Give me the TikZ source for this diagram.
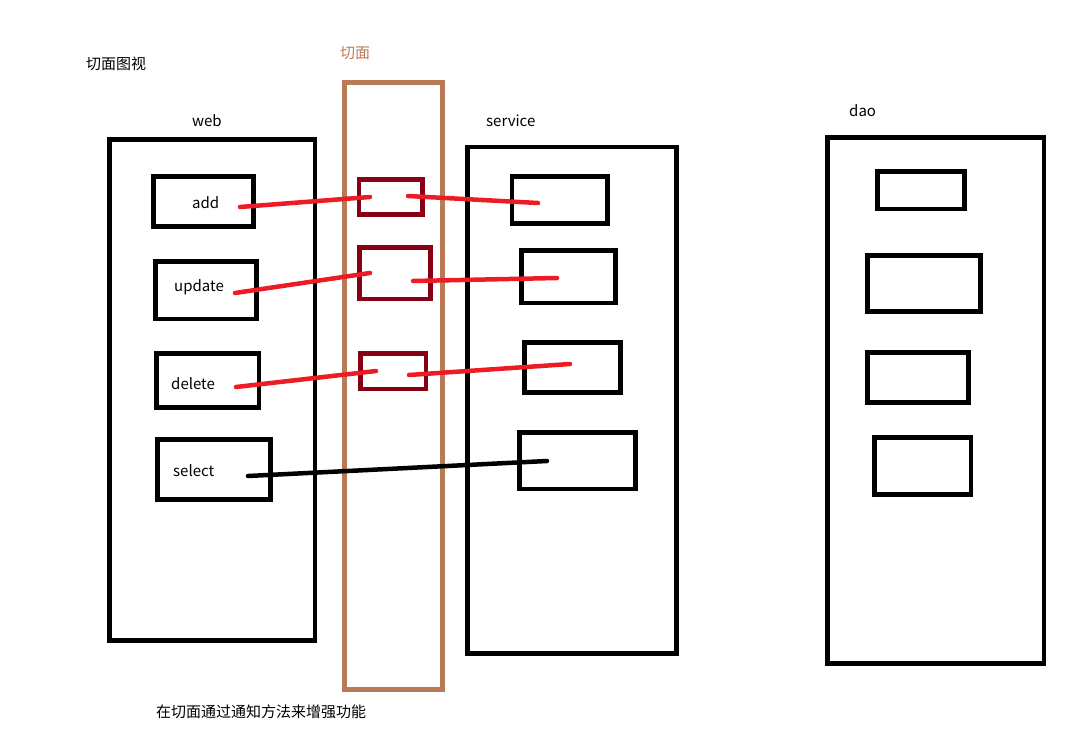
\documentclass[tikz,border=0pt]{standalone}
\usepackage{fontspec}
\setmainfont{Noto Sans CJK SC}
\definecolor{paintred}{HTML}{ED1C24}
\definecolor{darkred}{HTML}{880015}
\definecolor{brownc}{HTML}{B97A57}
\newcommand{\bx}[6]{\node[#2, minimum width={#5-#3}, minimum height={#6-#4}] (#1) at ({(#3+#5)/2},{(#4+#6)/2}) {};}
\begin{document}
\begin{tikzpicture}[x=1pt,y=-1pt,
  box/.style={draw=black, line width=4.7pt, rectangle, inner sep=0pt, outer sep=0pt},
  aspbox/.style={draw=darkred, line width=4.7pt, rectangle, inner sep=0pt, outer sep=0pt},
  brownbox/.style={draw=brownc, line width=4.5pt, rectangle, inner sep=0pt, outer sep=0pt},
  lbl/.style={anchor=west, inner sep=0pt, font=\fontsize{15}{18}\selectfont},
  redline/.style={draw=paintred, line width=4.5pt, line cap=round},
  blkline/.style={draw=black, line width=4.5pt, line cap=round}]
\useasboundingbox (0,0) rectangle (1079,752);
% big containers
\bx{web}{box}{109.5}{139.5}{315}{640.5}
\bx{aspect}{brownbox}{344.5}{82.5}{442.5}{689.5}
\bx{service}{box}{467.5}{147}{676.5}{653.5}
\bx{dao}{box}{827.5}{137.5}{1044}{663.5}
% web methods
\bx{add}{box}{153.5}{176.5}{253.5}{226.5}
\bx{update}{box}{155.5}{261.5}{256.5}{319}
\bx{delete}{box}{156.5}{353.5}{259}{407.5}
\bx{select}{box}{157.5}{439.5}{270.5}{499.5}
% aspect boxes
\bx{asp1}{aspbox}{359}{179.5}{422.5}{214.5}
\bx{asp2}{aspbox}{359.5}{247.5}{430.5}{299}
\bx{asp3}{aspbox}{360.5}{353.5}{426}{389}
% service boxes
\bx{svc1}{box}{512}{176.5}{607.5}{223.5}
\bx{svc2}{box}{521.5}{250.5}{615.5}{303}
\bx{svc3}{box}{524.5}{342.5}{620.5}{392.5}
\bx{svc4}{box}{519.5}{432.5}{635.5}{489}
% dao boxes
\bx{dao1}{box}{877.5}{171.5}{964.5}{209}
\bx{dao2}{box}{867.5}{255.5}{980.5}{311.5}
\bx{dao3}{box}{867.5}{352.5}{968.5}{402.5}
\bx{dao4}{box}{874.5}{437.5}{971}{494.5}
% labels
\node[lbl] (title) at (86,64) {切面图视};
\node[lbl, text=brownc] (asplbl) at (340,53) {切面};
\node[lbl] (weblbl) at (192,121) {web};
\node[lbl] (svclbl) at (486,121) {service};
\node[lbl] (daolbl) at (849,111) {dao};
\node[lbl] (addlbl) at (192,203) {add};
\node[lbl] (updlbl) at (174,287) {update};
\node[lbl] (dellbl) at (171,384) {delete};
\node[lbl] (sellbl) at (173,471) {select};
\node[lbl] (note) at (156,712) {在切面通过通知方法来增强功能};
% connector endpoints
\coordinate (a0) at (240,207); \coordinate (a1) at (370,197);
\coordinate (a2) at (408,196); \coordinate (a3) at (538,203);
\coordinate (u0) at (235,293); \coordinate (u1) at (370,273);
\coordinate (u2) at (413,281); \coordinate (u3) at (557,278);
\coordinate (d0) at (236,387); \coordinate (d1) at (376,371);
\coordinate (d2) at (409,375); \coordinate (d3) at (570,364);
\coordinate (s0) at (248,476); \coordinate (s3) at (547,461);
\draw[redline] (a0) -- (a1);
\draw[redline] (a2) -- (a3);
\draw[redline] (u0) -- (u1);
\draw[redline] (u2) -- (u3);
\draw[redline] (d0) -- (d1);
\draw[redline] (d2) -- (d3);
\draw[blkline] (s0) -- (s3);
\end{tikzpicture}
\end{document}
